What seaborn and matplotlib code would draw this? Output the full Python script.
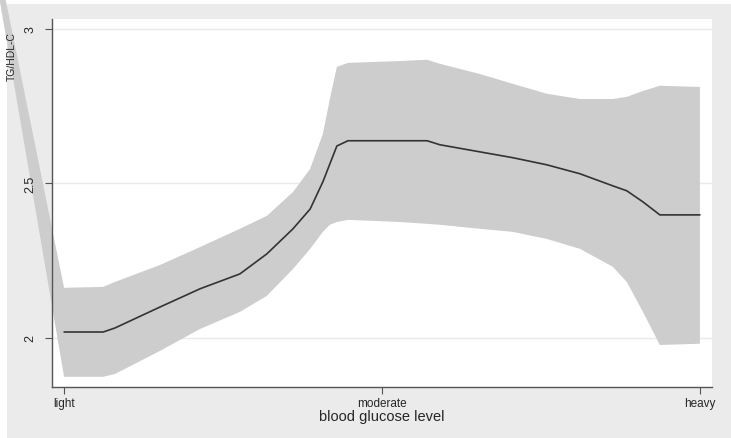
import matplotlib
matplotlib.use("Agg")
import matplotlib.pyplot as plt
from matplotlib.patches import Rectangle
import seaborn as sns
import pandas as pd

# values (x: 1 = light, 2 = moderate, 3 = heavy)
x_vals = [1.000, 1.123, 1.160, 1.302, 1.428, 1.553, 1.638, 1.720, 1.774, 1.814,
          1.836, 1.858, 1.893, 2.057, 2.142, 2.182, 2.308, 2.412, 2.519, 2.623,
          2.726, 2.770, 2.821, 2.874, 3.000]
ratio = [2.019, 2.019, 2.032, 2.100, 2.159, 2.207, 2.272, 2.353, 2.417, 2.505,
         2.563, 2.621, 2.638, 2.638, 2.638, 2.625, 2.602, 2.583, 2.560, 2.531,
         2.492, 2.476, 2.440, 2.398, 2.398]
ci_upper = [2.162, 2.165, 2.181, 2.236, 2.294, 2.353, 2.395, 2.472, 2.547, 2.660,
            2.773, 2.877, 2.890, 2.896, 2.900, 2.887, 2.854, 2.822, 2.790, 2.773,
            2.773, 2.780, 2.799, 2.816, 2.812]
ci_lower = [1.874, 1.874, 1.883, 1.958, 2.029, 2.084, 2.136, 2.223, 2.288, 2.343,
            2.366, 2.375, 2.382, 2.375, 2.369, 2.366, 2.353, 2.343, 2.320, 2.288,
            2.230, 2.181, 2.084, 1.977, 1.981]
# the band in the original spills out past the left axis (rendering artifact)
spill_x = [0.695]
spill_y = [3.71]

tick_pos = [1, 2, 3]
tick_labels = ["light", "moderate", "heavy"]
y_ticks = [2, 2.5, 3]
y_tick_labels = ["2", "2.5", "3"]

df = pd.DataFrame({"level": x_vals, "ratio": ratio})

sns.set_style("white")
plt.rcParams["font.family"] = ["Liberation Sans", "DejaVu Sans"]

fig = plt.figure(figsize=(7.31, 4.39), dpi=100, facecolor="white")
fig.patches.append(Rectangle((7 / 731, 0), 1, 434 / 439, transform=fig.transFigure,
                             facecolor="#ebebeb", edgecolor="none", zorder=-5))
ax = fig.add_axes([52 / 731, 1 - 388 / 439, 660 / 731, 368 / 439])
ax.set_facecolor("white")
ax.set_axisbelow(False)

band_x = spill_x + x_vals
band_lo = spill_y + ci_lower
band_hi = spill_y + ci_upper
ax.fill_between(band_x, band_lo, band_hi, color="#cdcdcd", linewidth=0,
                clip_on=False, zorder=2)
sns.lineplot(data=df, x="level", y="ratio", ax=ax, color="#333333",
             linewidth=1.2, zorder=3)

ax.set_xlim(0.962, 3.038)
ax.set_ylim(1.841, 3.032)

ax.set_yticks(y_ticks)
ax.set_yticklabels(y_tick_labels, rotation=90, va="center", fontsize=9)
ax.set_xticks(tick_pos)
ax.set_xticklabels(tick_labels, fontsize=8.5)
ax.tick_params(axis="y", length=5, width=0.8, color="#555555", pad=6, left=True)
ax.tick_params(axis="x", length=5, width=0.8, color="#555555", pad=2, bottom=True)

for y in y_ticks:
    ax.axhline(y, color="#eaeaea", linewidth=1, zorder=1)

for side in ["top", "right"]:
    ax.spines[side].set_visible(False)
for side in ["left", "bottom"]:
    ax.spines[side].set_color("#555555")
    ax.spines[side].set_linewidth(1)

ax.set_xlabel("blood glucose level", fontsize=10.5, labelpad=0)
ax.set_ylabel("TG/HDL-C", fontsize=7.5)
ax.yaxis.set_label_coords(-0.054, 0.90)

fig.savefig("out.png", dpi=100, facecolor=fig.get_facecolor())
